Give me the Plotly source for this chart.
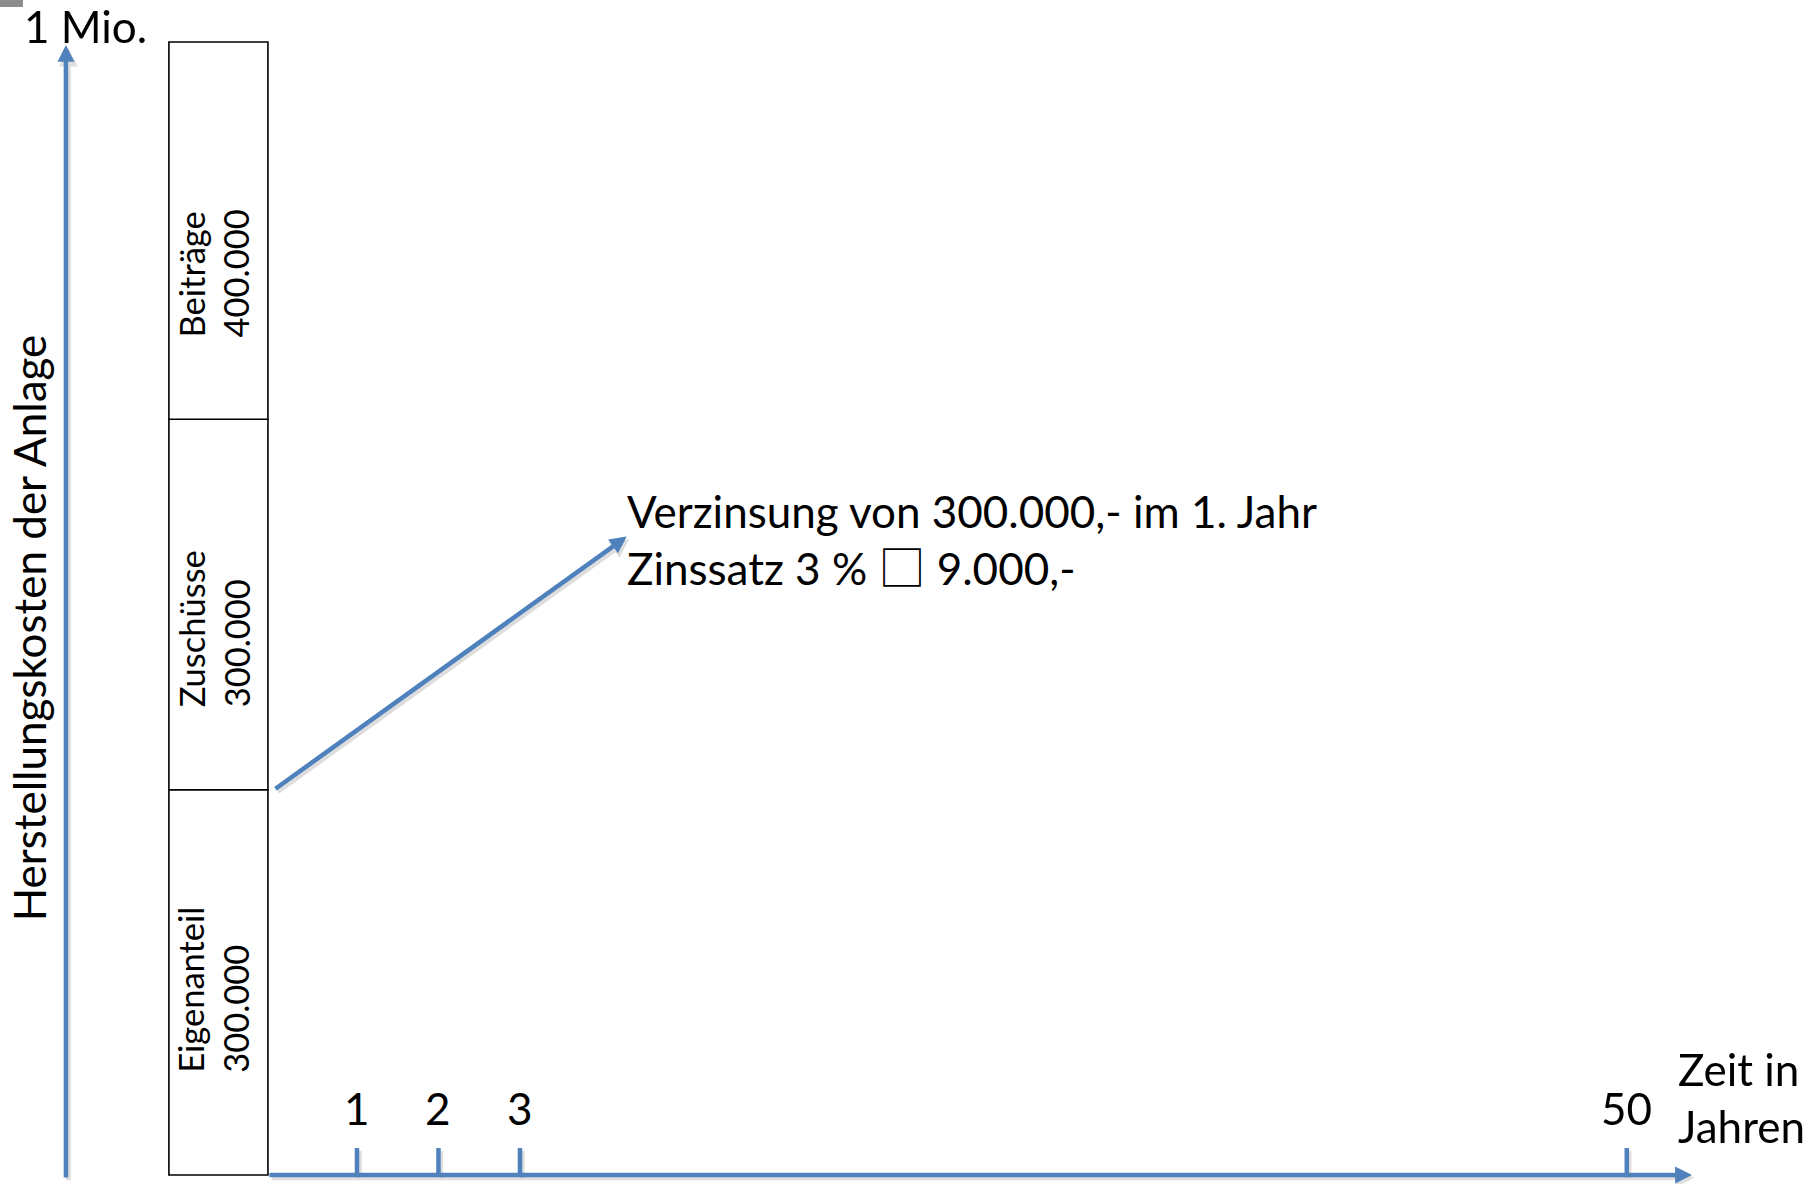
import plotly.graph_objects as go

# ---------------- data ----------------
segments = ["Eigenanteil", "Zuschüsse", "Beiträge"]
amounts = ["300.000", "300.000", "400.000"]
# segment heights as drawn in the sketch (thousand €, stacked to 1 Mio.)
drawn_heights = [340, 327, 333]
years = [1, 2, 3, 50]
year_labels = ["1", "2", "3", "50"]
y_top_label = "1 Mio."
y_title = "Herstellungskosten der Anlage"
x_title_lines = ["Zeit in", "Jahren"]
note_lines = ["Verzinsung von 300.000,- im 1. Jahr",
              "Zinssatz 3 % <span style=\"font-family:'Noto Sans CJK JP';font-size:47px\">□</span> 9.000,-"]

# ---------------- style / layout constants ----------------
BLUE = "#4F81BD"
SHADOW = "rgba(0,0,0,0.13)"
FONT = "Lato"
FS = 44
FS_BAR = 34.5
AXIS_BREAK_GAP = 13.58          # broken time axis: gap between year 3 and year 50
BAR_X, BAR_W = -0.70, 1.215
LABEL_LIFT = [88, 71, 70]
XR = [-3.38, 18.865]
YR = [-7.94, 1037.07]
Y_AXIS_X = -2.571
SHX, SHY = 0.03, -2.4           # shadow offset (data units)


def year_pos(y):
    return y if y <= 3 else 3 + AXIS_BREAK_GAP


bases = []
acc = 0
for h in drawn_heights:
    bases.append(acc)
    acc += h
total = acc

fig = go.Figure()

# stacked column
fig.add_trace(go.Bar(
    x=[BAR_X] * len(drawn_heights), y=drawn_heights, base=bases, width=BAR_W,
    marker=dict(color="white", line=dict(color="black", width=1.6)),
    hoverinfo="skip", showlegend=False,
))

# time axis ticks
for col, dx, dy in [(SHADOW, SHX, SHY), (BLUE, 0, 0)]:
    tx, ty = [], []
    for yr in years:
        p = year_pos(yr)
        tx += [p + dx, p + dx, None]
        ty += [0 + dy, total * 0.0238 + dy, None]
    fig.add_trace(go.Scatter(x=tx, y=ty, mode="lines", line=dict(color=col, width=4.5),
                             hoverinfo="skip", showlegend=False))

ann = []


def arrow(x0, y0, x1, y1):
    # soft shadow then the blue arrow
    ann.append(dict(x=x1 + SHX, y=y1 + SHY, ax=x0 + SHX, ay=y0 + SHY, xref="x", yref="y",
                    axref="x", ayref="y", text="", showarrow=True, arrowhead=2,
                    arrowsize=0.75, arrowwidth=5, arrowcolor=SHADOW, standoff=0))
    ann.append(dict(x=x1, y=y1, ax=x0, ay=y0, xref="x", yref="y", axref="x", ayref="y",
                    text="", showarrow=True, arrowhead=2, arrowsize=0.75, arrowwidth=4.5,
                    arrowcolor=BLUE, standoff=0, startstandoff=0))


# axes arrows
arrow(Y_AXIS_X, -3.5, Y_AXIS_X, total * 0.9974)
x_end = year_pos(years[-1]) + 0.8
arrow(BAR_X + BAR_W / 2, 0, x_end, 0)

# bar labels
for seg, amt, b, lift in zip(segments, amounts, bases, LABEL_LIFT):
    ann.append(dict(x=BAR_X - 0.06, y=b + lift, xref="x", yref="y", text=f"{seg}<br>{amt}",
                    textangle=-90, showarrow=False, xanchor="center", yanchor="bottom",
                    align="left", font=dict(family=FONT, size=FS_BAR, color="black")))

# interest note and arrow
note_x, note_y = 4.29, 558.5
arrow(BAR_X + BAR_W / 2 + 0.074, drawn_heights[0], note_x + 0.02, note_y + 5)
ann.append(dict(x=note_x, y=note_y, xref="x", yref="y", text="<br>".join(note_lines),
                showarrow=False, xanchor="left", yanchor="middle", align="left",
                font=dict(family=FONT, size=FS, color="black")))

# tick labels
for yr, lab in zip(years, year_labels):
    ann.append(dict(x=year_pos(yr), y=59, xref="x", yref="y", text=lab, showarrow=False,
                    xanchor="center", yanchor="middle",
                    font=dict(family=FONT, size=FS, color="black")))

# x title
ann.append(dict(x=17.18, y=68.8, xref="x", yref="y", text="<br>".join(x_title_lines),
                showarrow=False, xanchor="left", yanchor="middle", align="left",
                font=dict(family=FONT, size=FS, color="black")))

# y top label and y title
ann.append(dict(x=-3.10, y=1014.5, xref="x", yref="y", text=y_top_label, showarrow=False,
                xanchor="left", yanchor="middle", borderpad=0,
                font=dict(family=FONT, size=FS, color="black")))
ann.append(dict(x=-3.02, y=482.8, xref="x", yref="y", text=y_title, showarrow=False,
                textangle=-90, xanchor="center", yanchor="middle",
                font=dict(family=FONT, size=FS, color="black")))

fig.update_layout(
    width=1813, height=1184,
    margin=dict(l=0, r=0, t=0, b=0),
    paper_bgcolor="white", plot_bgcolor="white",
    showlegend=False,
    xaxis=dict(range=XR, visible=False, fixedrange=True),
    yaxis=dict(range=YR, visible=False, fixedrange=True),
    annotations=ann,
    shapes=[dict(type="rect", xref="paper", yref="paper", x0=0, x1=0.0127, y0=0.9941, y1=1,
                 fillcolor="#8c8c8c", line=dict(width=0))],
)

fig.write_html("out.html", config={"displayModeBar": False},
               post_script="document.body.style.margin='0';document.body.style.overflow='hidden';")
